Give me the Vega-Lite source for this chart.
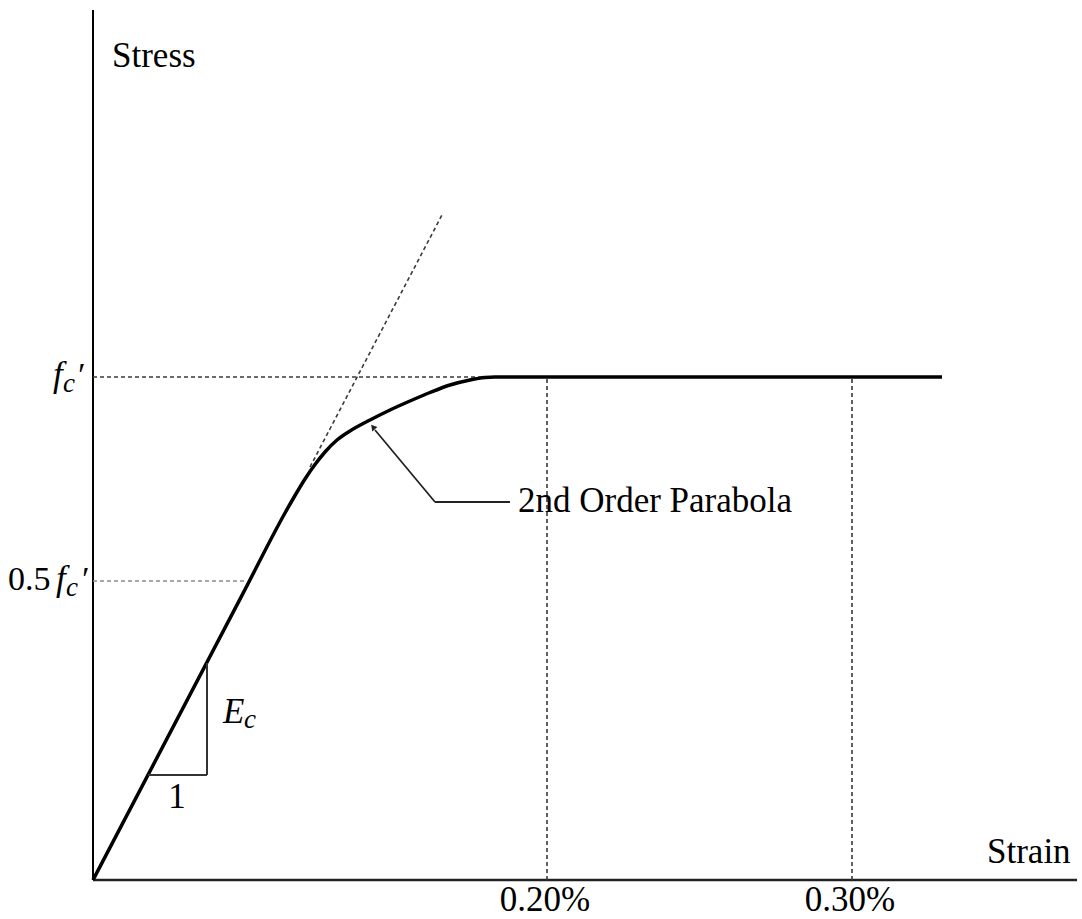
{
  "$schema": "https://vega.github.io/schema/vega-lite/v6.json",
  "width": 984,
  "height": 870,
  "autosize": "none",
  "padding": {"left": 93, "top": 10, "right": 5, "bottom": 39},
  "background": "white",
  "config": {"view": {"stroke": null}},
  "encoding": {
    "x": {"field": "x", "type": "quantitative", "scale": {"domain": [0, 984], "nice": false, "zero": false}, "axis": null},
    "y": {"field": "y", "type": "quantitative", "scale": {"domain": [0, 870], "nice": false, "zero": false}, "axis": null}
  },
  "layer": [
    {
      "data": {"values": [{"x": 0, "y": 0, "x2": 0, "y2": 870}]},
      "mark": {"type": "rule", "color": "#000000", "strokeWidth": 2},
      "encoding": {"x2": {"field": "x2"}, "y2": {"field": "y2"}}
    },
    {
      "data": {"values": [{"x": 0, "y": 0, "x2": 984, "y2": 0}]},
      "mark": {"type": "rule", "color": "#222222", "strokeWidth": 2.5},
      "encoding": {"x2": {"field": "x2"}, "y2": {"field": "y2"}}
    },
    {
      "data": {"values": [
        {"x": 0, "y": 503, "x2": 395, "y2": 503},
        {"x": 454, "y": 0, "x2": 454, "y2": 503},
        {"x": 759, "y": 0, "x2": 759, "y2": 503},
        {"x": 217, "y": 413, "x2": 350, "y2": 667}
      ]},
      "mark": {"type": "rule", "color": "#3a3a3a", "strokeWidth": 1.6, "strokeDash": [4, 3]},
      "encoding": {"x2": {"field": "x2"}, "y2": {"field": "y2"}}
    },
    {
      "data": {"values": [{"x": 0, "y": 299, "x2": 152, "y2": 299}]},
      "mark": {"type": "rule", "color": "#8a8a8a", "strokeWidth": 1.6, "strokeDash": [4, 3]},
      "encoding": {"x2": {"field": "x2"}, "y2": {"field": "y2"}}
    },
    {
      "data": {"values": [
        {"x": 0, "y": 0}, {"x": 150, "y": 286.6}, {"x": 192, "y": 367}, {"x": 202, "y": 384.5},
        {"x": 212, "y": 401}, {"x": 222, "y": 415.5}, {"x": 232, "y": 428}, {"x": 244, "y": 440},
        {"x": 257, "y": 449}, {"x": 277, "y": 460}, {"x": 297, "y": 470}, {"x": 317, "y": 479},
        {"x": 337, "y": 487.5}, {"x": 357, "y": 495}, {"x": 377, "y": 500}, {"x": 392, "y": 502.5},
        {"x": 402, "y": 503}, {"x": 849, "y": 503}
      ]},
      "mark": {"type": "line", "color": "#000000", "strokeWidth": 3.5, "interpolate": "monotone"},
      "encoding": {"order": {"field": "x", "type": "quantitative"}}
    },
    {
      "data": {"values": [
        {"x": 55, "y": 105, "x2": 114, "y2": 105},
        {"x": 114, "y": 105, "x2": 114, "y2": 217}
      ]},
      "mark": {"type": "rule", "color": "#333333", "strokeWidth": 2},
      "encoding": {"x2": {"field": "x2"}, "y2": {"field": "y2"}}
    },
    {
      "data": {"values": [
        {"x": 342, "y": 378, "x2": 282, "y2": 450},
        {"x": 342, "y": 378, "x2": 417, "y2": 378}
      ]},
      "mark": {"type": "rule", "color": "#222222", "strokeWidth": 1.8},
      "encoding": {"x2": {"field": "x2"}, "y2": {"field": "y2"}}
    },
    {
      "data": {"values": [{"x": 280, "y": 453}]},
      "mark": {"type": "point", "shape": "triangle-up", "filled": true, "color": "#222222", "size": 45, "angle": 320, "opacity": 1}
    },
    {
      "data": {"values": [
        {"x": 19, "y": 813, "label": "Stress"},
        {"x": 894, "y": 17, "label": "Strain"},
        {"x": 425, "y": 368, "label": "2nd Order Parabola"}
      ]},
      "mark": {"type": "text", "font": "Liberation Serif", "fontSize": 35, "align": "left", "baseline": "alphabetic", "color": "#000000"},
      "encoding": {"text": {"field": "label"}}
    },
    {
      "data": {"values": [
        {"x": -85, "y": 290, "label": "0.5"}
      ]},
      "mark": {"type": "text", "font": "Liberation Serif", "fontSize": 34, "align": "left", "baseline": "alphabetic", "color": "#000000"},
      "encoding": {"text": {"field": "label"}}
    },
    {
      "data": {"values": [
        {"x": 452, "y": -31, "label": "0.20%"},
        {"x": 757, "y": -31, "label": "0.30%"},
        {"x": 84, "y": 72, "label": "1"}
      ]},
      "mark": {"type": "text", "font": "Liberation Serif", "fontSize": 35, "align": "center", "baseline": "alphabetic", "color": "#000000"},
      "encoding": {"text": {"field": "label"}}
    },
    {
      "data": {"values": [
        {"x": -40, "y": 494, "label": "f"},
        {"x": -37, "y": 290, "label": "f"},
        {"x": 130, "y": 157, "label": "E"}
      ]},
      "mark": {"type": "text", "font": "Liberation Serif", "fontSize": 35, "fontStyle": "italic", "align": "left", "baseline": "alphabetic", "color": "#000000"},
      "encoding": {"text": {"field": "label"}}
    },
    {
      "data": {"values": [
        {"x": -30, "y": 488, "label": "c"},
        {"x": -27, "y": 284, "label": "c"},
        {"x": 151, "y": 152, "label": "c"}
      ]},
      "mark": {"type": "text", "font": "Liberation Serif", "fontSize": 27, "fontStyle": "italic", "align": "left", "baseline": "alphabetic", "color": "#000000"},
      "encoding": {"text": {"field": "label"}}
    },
    {
      "data": {"values": [
        {"x": -17, "y": 494, "label": "′"},
        {"x": -13, "y": 290, "label": "′"}
      ]},
      "mark": {"type": "text", "font": "Liberation Serif", "fontSize": 34, "fontStyle": "italic", "align": "left", "baseline": "alphabetic", "color": "#000000"},
      "encoding": {"text": {"field": "label"}}
    }
  ]
}
